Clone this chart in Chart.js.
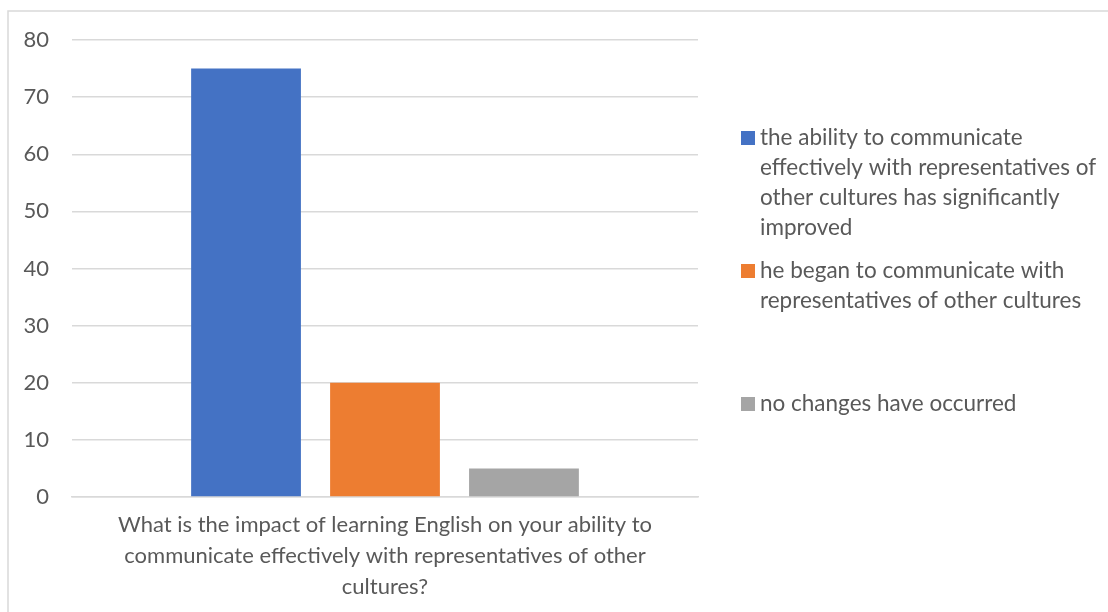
<!DOCTYPE html>
<html>
<head>
<meta charset="utf-8">
<script src="https://cdn.jsdelivr.net/npm/chart.js@4/dist/chart.umd.min.js"></script>
<style>
  html, body { margin: 0; padding: 0; background: #ffffff; }
  #wrap { width: 1108px; height: 612px; position: relative; }
  canvas { display: block; }
</style>
</head>
<body>
<div id="wrap"><canvas id="c" width="1108" height="612"></canvas></div>
<script>
// ---- data ----
const categories = [[
  "What is the impact of learning English on your ability to",
  "communicate effectively with representatives of other",
  "cultures?"
]];
const seriesNames = [
  "the ability to communicate effectively with representatives of other cultures has significantly improved",
  "he began to communicate with representatives of other cultures",
  "no changes have occurred"
];
const seriesLegendLines = [
  ["the ability to communicate", "effectively with representatives of", "other cultures has significantly", "improved"],
  ["he began to communicate with", "representatives of other cultures"],
  ["no changes have occurred"]
];
const seriesValues = [[75], [20], [5]];
const seriesColors = ["#4472C4", "#ED7D31", "#A5A5A5"];
const yTicks = [0, 10, 20, 30, 40, 50, 60, 70, 80];

const FONT = "Lato, 'Open Sans', sans-serif";
const TEXT = "#595959";

const frame = {
  id: 'frame',
  beforeDraw(chart) {
    const ctx = chart.ctx;
    ctx.save();
    ctx.fillStyle = '#ffffff';
    ctx.fillRect(0, 0, chart.width, chart.height);
    ctx.strokeStyle = '#d9d9d9';
    ctx.lineWidth = 1.5;
    ctx.beginPath();
    ctx.moveTo(chart.width + 5, 11);
    ctx.lineTo(8, 11);
    ctx.lineTo(8, chart.height + 5);
    ctx.stroke();
    ctx.restore();
  }
};

const sideLegend = {
  id: 'sideLegend',
  afterDraw(chart, args, opts) {
    const ctx = chart.ctx;
    ctx.save();
    ctx.font = opts.fontSize + 'px ' + FONT;
    ctx.textBaseline = 'middle';
    ctx.textAlign = 'left';
    chart.data.datasets.forEach((ds, i) => {
      const lines = opts.lines[i];
      const y0 = opts.top + i * opts.slot;
      ctx.fillStyle = ds.backgroundColor;
      ctx.fillRect(opts.left, y0 - opts.box / 2, opts.box, opts.box);
      ctx.fillStyle = TEXT;
      lines.forEach((ln, k) => {
        ctx.fillText(ln, opts.left + opts.box + 5, y0 + k * opts.lineH);
      });
    });
    ctx.restore();
  }
};

new Chart(document.getElementById('c'), {
  type: 'bar',
  data: {
    labels: categories,
    datasets: seriesNames.map((n, i) => ({
      label: n,
      data: seriesValues[i],
      backgroundColor: seriesColors[i],
      borderWidth: 0,
      categoryPercentage: 0.666,
      barPercentage: 0.79
    }))
  },
  options: {
    responsive: false,
    devicePixelRatio: 1,
    animation: false,
    layout: { padding: { top: 40, right: 410, left: 0, bottom: 0 } },
    plugins: {
      legend: { display: false },
      tooltip: { enabled: false },
      sideLegend: {
        lines: seriesLegendLines,
        left: 741, top: 138, slot: 133, lineH: 30, box: 14, fontSize: 22.5
      }
    },
    scales: {
      x: {
        grid: { display: false, drawTicks: false },
        border: { display: true, color: '#d9d9d9', width: 1.5 },
        ticks: {
          color: TEXT,
          font: { family: FONT, size: 22, lineHeight: 1.42 },
          padding: 12,
          maxRotation: 0,
          autoSkip: false
        },
        afterFit(s) { s.height = 115; }
      },
      y: {
        min: 0, max: 80,
        afterBuildTicks(s) { s.ticks = yTicks.map(v => ({ value: v })); },
        grid: { color: '#d9d9d9', lineWidth: 1.5, drawTicks: false },
        border: { display: false },
        ticks: {
          color: TEXT,
          font: { family: FONT, size: 22 },
          padding: 23
        },
        afterFit(s) { s.width = 72; }
      }
    }
  },
  plugins: [frame, sideLegend]
});
</script>
</body>
</html>
